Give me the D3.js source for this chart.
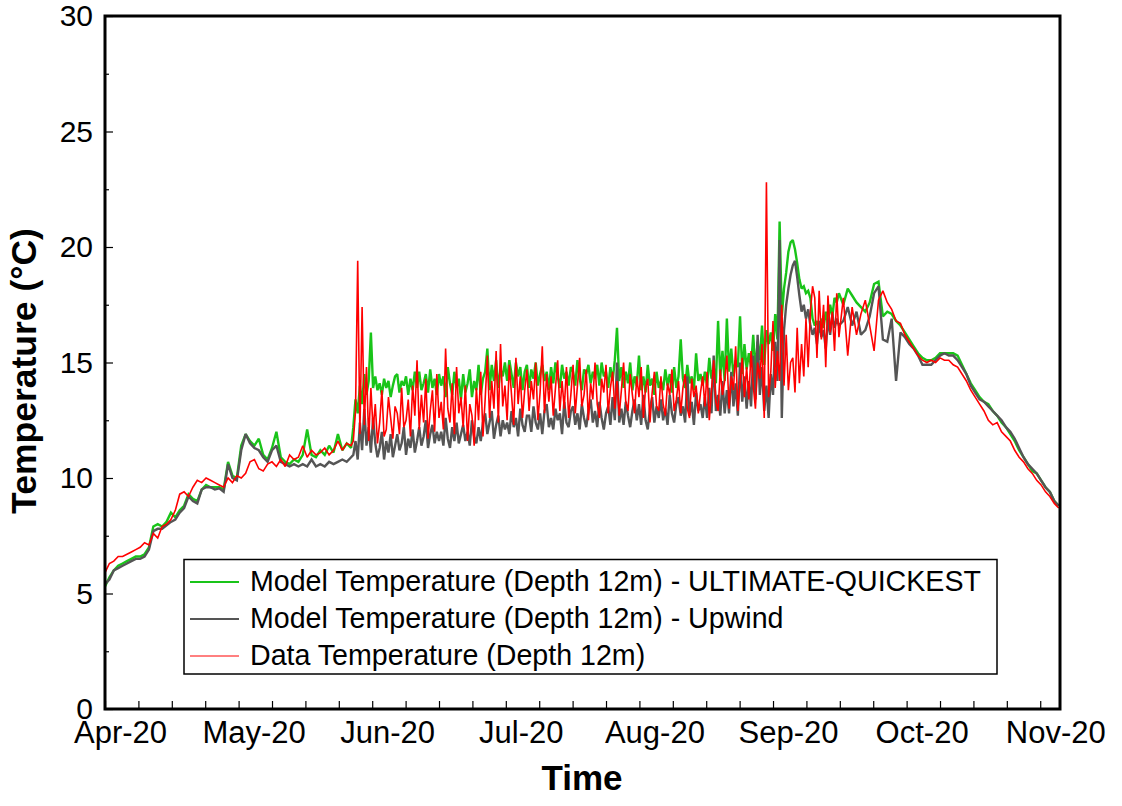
<!DOCTYPE html>
<html><head><meta charset="utf-8">
<script src="https://cdn.jsdelivr.net/npm/d3@7"></script>
<style>
body{margin:0;background:#fff}
svg{display:block}
text{font-family:"Liberation Sans",Arial,Helvetica,sans-serif;fill:#000}
</style>
</head><body>
<svg id="chart" width="1122" height="806"></svg>
<script>
// ---------- tick labels / categories ----------
const monthLabels = ["Apr-20","May-20","Jun-20","Jul-20","Aug-20","Sep-20","Oct-20","Nov-20"];
const yTickValues = [0, 5, 10, 15, 20, 25, 30];
const yMinorTickValues = [2.5, 7.5, 12.5, 17.5, 22.5, 27.5];
const seriesNames = [
  "Model Temperature (Depth 12m) - ULTIMATE-QUICKEST",
  "Model Temperature (Depth 12m) - Upwind",
  "Data Temperature (Depth 12m)"
];

// ---------- sample times (days since start of axis) ----------
const earlyDays = d3.range(0, 57, 1);          // daily samples
const midDays   = d3.range(56.5, 167.01, 0.5); // half-daily samples
const lateDays  = d3.range(168, 218, 1);       // daily samples

// ---------- series values (°C) ----------
const quickestEarly = [5.3,5.7,6.0,6.2,6.3,6.4,6.5,6.6,6.6,6.7,
 7.0,7.9,8.0,7.9,8.1,8.5,8.3,8.6,8.8,9.3,
 9.1,9.0,9.5,9.7,9.6,9.6,9.6,9.5,10.7,10.1,
 10.0,11.4,11.9,11.6,11.4,11.7,11.0,10.8,11.3,12.0,
 10.9,10.7,10.6,10.8,10.7,11.0,12.1,11.0,10.9,11.2,
 11.0,11.4,11.1,11.9,11.2,11.5,11.3];
const quickestMid = [12.2,13.4,12.8,14.0,13.2,14.5,13.6,14.2,16.3,13.9,
 14.4,13.8,14.1,13.6,14.3,13.9,14.2,13.5,14.0,14.4,
 14.5,13.7,14.2,14.0,14.4,13.6,14.3,13.8,14.6,13.9,
 14.6,13.8,14.1,14.5,13.7,14.7,13.9,14.3,13.6,14.5,
 14.0,14.4,13.5,14.8,14.1,13.6,14.6,13.9,14.3,13.4,
 14.5,13.7,14.1,14.7,13.5,14.2,13.8,14.9,13.6,14.3,
 14.6,15.6,13.8,14.9,14.2,15.1,13.9,14.7,14.4,15.0,
 14.2,15.1,14.5,13.9,15.0,14.4,14.8,13.8,14.6,14.9,
 13.9,14.7,14.3,15.0,14.0,14.5,14.9,14.2,14.6,13.8,
 14.8,14.1,15.0,14.4,13.9,14.9,14.3,14.6,14.0,14.8,
 14.6,14.0,15.1,14.3,13.8,14.7,14.5,14.9,14.1,14.6,
 14.3,14.9,14.0,15.0,14.4,14.6,13.9,14.8,14.2,15.1,
 16.5,14.2,14.8,13.9,14.6,14.1,15.0,13.8,14.4,14.0,
 15.3,13.8,14.4,13.7,14.9,14.0,14.3,13.6,14.6,13.9,
 14.2,13.8,14.7,14.0,14.5,13.7,14.8,13.9,14.4,16.0,
 14.3,13.9,14.9,14.1,14.4,13.8,15.4,14.2,14.5,14.0,
 14.6,14.0,15.2,14.3,14.8,14.1,16.8,14.4,15.5,14.2,
 16.9,14.6,15.6,14.4,15.1,14.8,17.0,14.5,15.8,14.7,
 15.4,14.8,16.2,14.6,15.9,15.1,16.6,14.9,16.4,15.8,
 16.3,15.5,17.1,16.0,21.1,17.0,18.2,18.9,19.8,20.2,
 20.3,19.9,19.3,18.6,18.2,18.3,18.0,18.1,17.8,16.9,
 16.6,16.8,16.3,16.9,16.5,17.2,16.7,17.5,17.0,17.8,
 17.6,18.0];
const quickestLate = [17.5,18.2,17.9,17.6,17.4,17.2,17.6,18.4,18.5,17.0,
 17.2,17.1,16.8,16.6,16.3,16.0,15.7,15.4,15.2,15.1,
 15.1,15.2,15.4,15.4,15.4,15.4,15.3,14.9,14.5,14.1,
 13.8,13.5,13.3,13.2,12.9,12.7,12.4,12.2,11.9,11.6,
 11.2,10.9,10.6,10.3,10.2,9.9,9.6,9.4,9.0,8.8];

const upwindEarly = [5.4,5.6,6.0,6.1,6.2,6.3,6.4,6.5,6.5,6.6,
 6.9,7.7,7.8,7.8,7.95,8.1,8.2,8.5,8.7,9.2,
 9.0,8.9,9.5,9.6,9.6,9.5,9.55,9.4,10.6,10.0,
 9.9,11.2,11.9,11.5,11.3,11.2,10.9,10.7,11.2,11.4,
 10.7,10.6,10.5,10.6,10.5,10.6,10.5,10.8,10.5,10.6,
 10.5,10.7,10.6,10.7,10.8,10.7,10.9];
const upwindMid = [11.0,11.6,10.8,12.4,11.2,13.0,11.4,12.2,11.1,12.6,
 11.5,10.9,11.3,12.0,10.8,11.6,11.1,11.9,10.9,11.4,
 11.9,11.2,11.5,12.2,11.0,11.7,11.3,12.1,11.1,11.6,
 12.2,11.4,11.8,12.5,11.3,11.9,12.3,11.5,12.0,11.6,
 12.0,11.4,12.6,11.7,11.3,12.2,11.6,12.4,11.5,11.9,
 12.3,11.6,12.0,11.4,12.5,11.8,11.5,12.2,11.6,12.4,
 12.8,11.9,12.4,12.9,11.7,12.3,12.7,11.8,12.5,12.1,
 12.4,11.9,12.9,12.2,12.6,11.8,13.0,12.3,12.0,12.7,
 12.7,12.0,13.1,12.4,12.1,12.8,11.9,12.9,13.2,12.2,
 12.6,12.1,13.0,12.5,12.8,11.9,13.3,12.4,12.2,12.9,
 13.1,12.3,12.8,12.1,13.2,12.6,12.2,12.9,13.4,12.4,
 12.9,12.2,13.3,12.6,12.1,12.8,13.1,12.3,13.5,12.5,
 15.0,12.4,13.0,12.3,13.3,12.7,12.2,12.9,13.4,12.5,
 13.2,12.3,13.6,12.5,12.1,13.0,13.5,12.4,13.1,12.6,
 13.4,12.5,13.0,12.3,13.6,12.8,12.4,13.2,13.5,12.7,
 13.1,12.4,14.4,12.7,13.3,12.3,13.7,12.9,13.2,12.6,
 13.5,12.6,13.9,12.8,15.3,12.9,13.6,12.7,14.2,12.8,
 13.8,12.8,14.6,13.1,14.1,12.7,15.0,13.3,14.4,13.0,
 14.2,13.1,15.3,13.4,16.2,13.6,14.8,12.9,14.0,12.6,
 14.5,13.6,15.9,14.2,20.3,12.6,16.4,17.5,18.2,18.8,
 19.2,19.4,18.7,17.9,17.2,17.5,16.9,17.3,16.6,16.2,
 16.5,15.8,16.8,16.1,16.4,15.6,16.9,16.2,17.1,16.5,
 16.9,16.6];
const upwindLate = [16.8,17.4,16.6,17.2,16.2,16.4,17.0,18.0,18.3,16.0,
 15.9,16.9,14.2,16.3,16.1,15.8,15.6,15.3,14.9,14.9,
 14.9,15.1,15.3,15.4,15.3,15.3,15.1,14.8,14.5,14.0,
 13.7,13.4,13.3,13.1,12.9,12.7,12.5,12.2,12.0,11.7,
 11.3,10.9,10.6,10.4,10.2,9.9,9.6,9.4,9.0,8.8];

const dataEarly = [5.9,6.3,6.4,6.6,6.6,6.7,6.8,6.9,7.0,7.2,
 7.1,7.6,7.4,7.9,8.0,8.2,8.6,9.3,9.4,9.2,
 9.6,9.9,9.8,10.0,9.9,9.8,9.7,9.6,10.0,9.8,
 10.1,10.0,10.2,10.7,10.8,10.4,10.3,10.6,10.7,10.5,
 10.8,10.5,11.0,10.8,10.9,11.4,10.9,11.2,11.0,11.1,
 11.3,11.0,11.2,11.6,11.2,11.5,11.4];
const dataMid = [11.6,12.9,19.4,11.9,17.4,12.3,14.8,11.6,13.9,12.1,
 13.2,11.5,12.4,13.8,11.8,12.1,13.5,12.6,11.7,13.1,
 12.8,11.9,13.9,12.2,12.5,13.4,11.8,14.0,12.7,15.1,
 12.1,13.6,12.4,14.3,11.7,12.9,13.8,12.0,14.5,12.6,
 13.3,12.1,15.6,13.0,12.4,14.1,11.9,14.8,12.8,13.5,
 12.2,14.0,11.6,13.2,12.7,11.4,13.9,12.5,14.6,11.8,
 13.4,15.3,12.6,14.2,13.0,15.5,12.4,15.8,13.1,14.0,
 12.5,14.9,13.6,12.3,15.2,13.2,14.4,12.6,13.8,14.7,
 12.9,14.2,13.4,15.0,12.5,13.7,15.7,12.8,14.5,13.3,
 14.4,12.7,13.9,15.1,12.9,14.2,13.0,14.8,12.6,13.6,
 14.9,12.8,14.0,15.2,13.1,13.6,14.7,12.5,14.1,13.4,
 15.0,13.2,12.6,14.3,13.7,14.9,12.8,13.9,14.6,13.0,
 14.2,12.7,13.8,15.0,13.3,12.9,14.5,13.6,12.8,14.4,
 13.5,14.8,12.6,13.9,14.3,12.4,13.7,14.6,13.1,12.9,
 14.4,13.2,12.7,14.1,13.6,14.7,12.9,13.4,14.2,12.8,
 13.9,14.5,13.0,12.6,14.3,13.5,14.0,12.8,13.7,14.4,
 13.1,14.6,12.5,13.8,15.1,13.3,12.9,14.7,13.6,14.2,
 15.3,13.0,14.4,13.8,15.7,12.9,14.1,15.2,13.5,14.8,
 13.4,15.5,14.0,13.0,15.0,14.3,15.8,12.6,22.8,13.5,
 14.6,16.8,13.9,15.5,14.2,17.5,14.0,16.2,13.8,15.0,
 15.2,13.7,16.5,14.1,15.8,14.4,16.9,14.8,17.2,18.3,
 17.8,15.2,18.1,16.0,17.5,14.8,17.9,16.3,17.2,15.5,
 18.0,16.1];
const dataLate = [17.8,15.3,17.4,16.2,17.1,17.7,16.6,15.5,17.7,18.1,
 17.6,17.3,16.8,16.7,16.2,15.9,15.6,15.3,15.1,15.0,
 15.1,15.0,15.2,15.1,15.1,14.9,14.8,14.5,14.2,13.8,
 13.5,13.2,12.9,12.5,12.3,12.4,12.0,11.8,11.6,11.2,
 10.9,10.7,10.4,10.2,9.9,9.7,9.4,9.2,8.9,8.7];

const seriesColors = ["#19c419", "#555555", "#ff0000"];
const seriesWidths = [2.4, 2.4, 1.6];
const legendWidths = [2, 2, 1];

// ---------- build series ----------
const allDays = earlyDays.concat(midDays, lateDays);
const seriesValues = [
  quickestEarly.concat(quickestMid, quickestLate),
  upwindEarly.concat(upwindMid, upwindLate),
  dataEarly.concat(dataMid, dataLate)
];
const series = seriesValues.map((vals, k) => ({
  name: seriesNames[k], color: seriesColors[k], width: seriesWidths[k], lw: legendWidths[k],
  points: vals.map((v, i) => ({day: allDays[i], v}))
}));

// ---------- layout ----------
const L = 105, R = 1060, T = 16, B = 709;
const daysPerLabel = 30.4;
const x = d3.scaleLinear().domain([0, 217.3]).range([L, R]);
const y = d3.scaleLinear().domain([0, 30]).range([B, T]);
const labelDays = monthLabels.map((_, i) => i * daysPerLabel);
const minorDays = d3.range(0, 217, daysPerLabel / 4);

const svg = d3.select("#chart");
svg.append("rect").attr("width", 1122).attr("height", 806).attr("fill", "#fff");

svg.append("defs").append("clipPath").attr("id", "clip")
  .append("rect").attr("x", L).attr("y", T).attr("width", R - L).attr("height", B - T);

const line = d3.line().x(d => x(d.day)).y(d => y(d.v));
const plot = svg.append("g").attr("clip-path", "url(#clip)");
series.forEach(s => {
  plot.append("path").datum(s.points)
    .attr("fill", "none").attr("stroke", s.color)
    .attr("stroke-width", s.width).attr("stroke-linejoin", "miter").attr("stroke-miterlimit", 2)
    .attr("d", line);
});

// ---------- axes ----------
const yAxis = svg.append("g").attr("transform", `translate(${L},0)`)
  .call(d3.axisLeft(y).tickValues(yTickValues).tickSize(-8).tickPadding(12));
yAxis.selectAll("text").style("font-size", "30px").attr("fill", "#000");
const yMinor = svg.append("g").attr("transform", `translate(${L},0)`)
  .call(d3.axisLeft(y).tickValues(yMinorTickValues).tickSize(-4).tickFormat(""));

const xMinor = svg.append("g").attr("transform", `translate(0,${B})`)
  .call(d3.axisBottom(x).tickValues(minorDays).tickSize(-8).tickFormat(""));
const xAxis = svg.append("g").attr("transform", `translate(0,${B})`)
  .call(d3.axisBottom(x).tickValues(labelDays).tickFormat((d, i) => monthLabels[i]).tickSize(0).tickPadding(12));
xAxis.selectAll("text").style("font-size", "31px").attr("x", 15).attr("fill", "#000");

[yAxis, yMinor, xMinor, xAxis].forEach(g => {
  g.select(".domain").remove();
  g.selectAll("line").attr("stroke", "#000").attr("stroke-width", 1.2);
});

// frame
svg.append("rect").attr("x", L).attr("y", T).attr("width", R - L).attr("height", B - T)
  .attr("fill", "none").attr("stroke", "#000").attr("stroke-width", 3);

// titles
svg.append("text").attr("x", 582).attr("y", 790).attr("text-anchor", "middle")
  .style("font-size", "35px").style("font-weight", "bold").text("Time");
svg.append("text").attr("transform", "translate(36,371) rotate(-90)").attr("text-anchor", "middle")
  .style("font-size", "35.5px").style("font-weight", "bold").text("Temperature (°C)");

// legend
const lg = svg.append("g");
lg.append("rect").attr("x", 184).attr("y", 559.5).attr("width", 813).attr("height", 114.5)
  .attr("fill", "#fff").attr("stroke", "#000").attr("stroke-width", 1.5);
series.forEach((s, i) => {
  const ly = 582 + i * 37;
  lg.append("line").attr("x1", 190).attr("x2", 239).attr("y1", ly).attr("y2", ly)
    .attr("stroke", s.color).attr("stroke-width", s.lw);
  lg.append("text").attr("x", 250).attr("y", ly + 9).style("font-size", "28.6px").text(s.name);
});
</script>
</body></html>
